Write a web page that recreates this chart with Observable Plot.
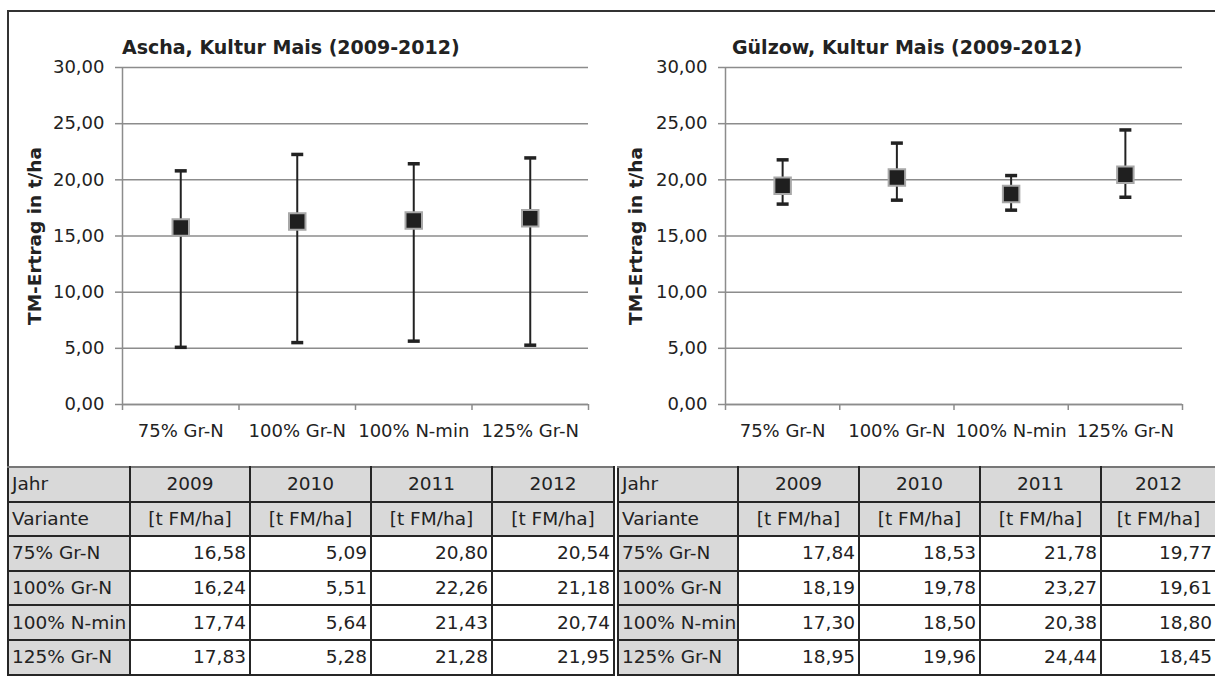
<!DOCTYPE html>
<html>
<head>
<meta charset="utf-8">
<script src="https://cdn.jsdelivr.net/npm/d3@7"></script>
<script src="https://cdn.jsdelivr.net/npm/@observablehq/plot@0.6"></script>
<style>
  html, body { margin: 0; padding: 0; background: #fff; }
  #page { position: relative; width: 1215px; height: 677px; overflow: hidden; font-family: "DejaVu Sans", sans-serif; color: #222; }
  .abs { position: absolute; }
  .ctitle { position: absolute; font: bold 19px "DejaVu Sans", sans-serif; line-height: 19px; white-space: nowrap; color: #222; }
  table.t { position: absolute; border-collapse: collapse; table-layout: fixed; font: 18.5px "DejaVu Sans", sans-serif; color: #222; }
  table.t td { border: 2px solid #262626; padding: 0 3px; white-space: nowrap; overflow: hidden; line-height: 20px; }
  table.t tr { height: 34.6px; }
  table.t tr.r0 td { border-top-color: #777; }
  table.t tr.r0 td { border-bottom: 1.5px solid #555; }
  td.g { background: #d9d9d9; }
  td.l { text-align: left; }
  td.c { text-align: center; }
  td.r { text-align: right; padding-right: 2px; }
  table.cut td:last-child { padding-right: 9px; }
</style>
</head>
<body>
<div id="page">
  <div id="left" class="abs" style="left:0;top:0"></div>
  <div id="right" class="abs" style="left:600px;top:0"></div>
</div>
<script>
// ---- data ----
const varianten = ["75% Gr-N", "100% Gr-N", "100% N-min", "125% Gr-N"];
const jahre = ["2009", "2010", "2011", "2012"];
const einheit = "[t FM/ha]";
// rows: Variante, columns: 2009..2012 (t/ha)
const ascha = [
  [16.58, 5.09, 20.80, 20.54],
  [16.24, 5.51, 22.26, 21.18],
  [17.74, 5.64, 21.43, 20.74],
  [17.83, 5.28, 21.28, 21.95]
];
const guelzow = [
  [17.84, 18.53, 21.78, 19.77],
  [18.19, 19.78, 23.27, 19.61],
  [17.30, 18.50, 20.38, 18.80],
  [18.95, 19.96, 24.44, 18.45]
];
const yTicks = [0, 5, 10, 15, 20, 25, 30];
const titles = ["Ascha, Kultur Mais (2009-2012)", "Gülzow, Kultur Mais (2009-2012)"];
const yLabel = "TM-Ertrag in t/ha";

const fmt = d => d.toFixed(2).replace(".", ",");
const GRID = "#8c8c8c";
const INK = "#222";

const capSymbol = {
  draw(context, size) {
    const w = Math.sqrt(size / Math.PI);
    context.moveTo(-w, 0);
    context.lineTo(w, 0);
  }
};

function makeChart(values, o) {
  const data = varianten.map((v, i) => ({
    i: i + 0.5,
    name: v,
    mean: d3.mean(values[i]),
    min: d3.min(values[i]),
    max: d3.max(values[i])
  }));
  return Plot.plot({
    width: o.width,
    height: 452,
    marginLeft: o.ml,
    marginRight: o.mr,
    marginTop: 67,
    marginBottom: 48,
    style: { fontFamily: "DejaVu Sans, sans-serif", fontSize: "18px", color: INK, background: "transparent" },
    x: { domain: [0, varianten.length] },
    y: { domain: [0, 30] },
    marks: [
      Plot.gridY(yTicks, { stroke: GRID, strokeOpacity: 1, strokeWidth: 1.5 }),
      Plot.axisY({ ticks: yTicks, tickFormat: fmt, tickSize: 7, tickPadding: 11, stroke: GRID, strokeWidth: 1.5, label: null }),
      Plot.ruleX([0], { stroke: GRID, strokeWidth: 1.5 }),
      Plot.ruleY([0], { stroke: GRID, strokeWidth: 1.5 }),
      Plot.axisX({ ticks: d3.range(0, varianten.length + 1), tickFormat: () => "", tickSize: 6, stroke: GRID, strokeWidth: 1.5, label: null }),
      Plot.axisX({ ticks: data.map(d => d.i), tickFormat: d => varianten[Math.floor(d)], tickSize: 0, tickPadding: 20, label: null }),
      Plot.ruleX(data, { x: "i", y1: "min", y2: "max", stroke: INK, strokeWidth: 2 }),
      Plot.dot(data, { x: "i", y: "min", symbol: capSymbol, r: 6, stroke: INK, strokeWidth: 3.5, fill: "none" }),
      Plot.dot(data, { x: "i", y: "max", symbol: capSymbol, r: 6, stroke: INK, strokeWidth: 3.5, fill: "none" }),
      Plot.dot(data, { x: "i", y: "mean", symbol: "square", r: 9.3, fill: "#1f1f1f", stroke: "#a8a8a8", strokeWidth: 2 }),
      Plot.text([yLabel], { frameAnchor: "left", rotate: -90, dx: o.labelDx, textAnchor: "middle", lineAnchor: "middle", fontWeight: "bold", fontSize: 18.5, fill: INK })
    ]
  });
}

document.getElementById("left").append(makeChart(ascha, { width: 610, ml: 122, mr: 22, labelDx: -87 }));
document.getElementById("right").append(makeChart(guelzow, { width: 615, ml: 125, mr: 33, labelDx: -89 }));

const page = document.getElementById("page");

// chart titles
[[titles[0], 122], [titles[1], 732]].forEach(([t, x]) => {
  const d = document.createElement("div");
  d.className = "ctitle";
  d.style.left = x + "px";
  d.style.top = "38px";
  d.textContent = t;
  page.append(d);
});

// frame lines
const fTop = document.createElement("div");
fTop.className = "abs";
Object.assign(fTop.style, { left: "7px", top: "10px", width: "1210px", height: "2px", background: "#333" });
const fLeft = document.createElement("div");
fLeft.className = "abs";
Object.assign(fLeft.style, { left: "7px", top: "10px", width: "2px", height: "460px", background: "#333" });
page.append(fTop, fLeft);

// data tables
function makeTable(values, left, widths, cls) {
  const t = document.createElement("table");
  t.className = "t" + (cls ? " " + cls : "");
  t.style.left = left + "px";
  t.style.top = "466px";
  t.style.width = d3.sum(widths) + "px";
  const cg = document.createElement("colgroup");
  widths.forEach(w => { const c = document.createElement("col"); c.style.width = w + "px"; cg.append(c); });
  t.append(cg);
  const addRow = (cells, rcls) => {
    const tr = document.createElement("tr");
    if (rcls) tr.className = rcls;
    cells.forEach(([txt, c]) => { const td = document.createElement("td"); td.className = c; td.textContent = txt; tr.append(td); });
    t.append(tr);
  };
  addRow([["Jahr", "g l"], ...jahre.map(j => [j, "g c"])], "r0");
  addRow([["Variante", "g l"], ...jahre.map(() => [einheit, "g c"])], "r1");
  varianten.forEach((v, i) => addRow([[v, "g l"], ...values[i].map(x => [fmt(x), "r"])]));
  return t;
}
page.append(makeTable(ascha, 7, [122, 120, 121, 121, 122]));
page.append(makeTable(guelzow, 617, [120, 121, 121, 121, 121], "cut"));
</script>
</body>
</html>
